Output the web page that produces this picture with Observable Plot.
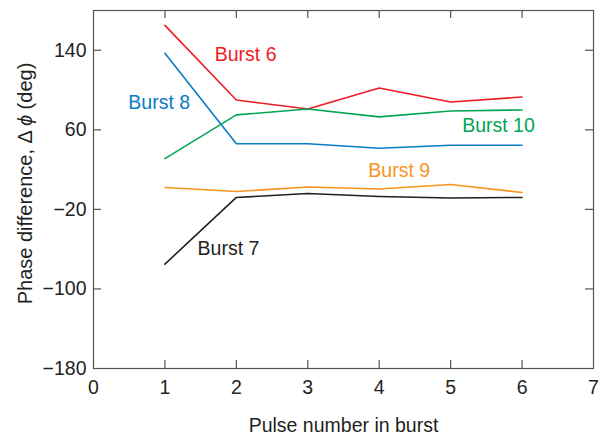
<!DOCTYPE html>
<html>
<head>
<meta charset="utf-8">
<script src="https://cdn.jsdelivr.net/npm/d3@7"></script>
<script src="https://cdn.jsdelivr.net/npm/@observablehq/plot@0.6"></script>
<style>
  body { margin: 0; background: #fff; }
  #chart svg { font-family: "Liberation Sans", Arial, Helvetica, sans-serif; }
</style>
</head>
<body>
<div id="chart"></div>
<script>
// Phase difference per pulse, for five bursts
const pulses  = [1, 2, 3, 4, 5, 6];
const burst6  = [165, 90, 81, 102, 88, 93];
const burst7  = [-75, -8, -4, -7, -8.5, -8];
const burst8  = [137, 46, 46, 41.5, 44.5, 44.5];
const burst9  = [2, -2, 2.5, 0.5, 5, -3];
const burst10 = [31, 75, 81, 73, 79, 80];

const burstNames  = ["Burst 6", "Burst 7", "Burst 8", "Burst 9", "Burst 10"];
const burstColors = ["#ed1c24", "#231f20", "#0a7cc4", "#f7941d", "#00a651"];

// Where each burst's name sits, in data units
const labelPulse = [2.13, 1.89, 0.92, 4.28, 5.67];
const labelPhase = [136, -60, 87, 18.5, 64.5];

const xTicks = [0, 1, 2, 3, 4, 5, 6, 7];
const yTicks = [-180, -100, -20, 60, 140];

const seriesValues = [burst6, burst7, burst8, burst9, burst10];
const rows = burstNames.flatMap((name, i) =>
  pulses.map((p, j) => ({burst: name, pulse: p, phase: seriesValues[i][j]}))
);
const labels = burstNames.map((name, i) => ({burst: name, pulse: labelPulse[i], phase: labelPhase[i]}));

const W = 601, H = 436;
const mL = 93, mR = 8, mT = 10, mB = 68;
const innerW = W - mL - mR, innerH = H - mT - mB;
const tickLen = 8;
const axisColor = "#555";
const fs = 19.5;
const yTitle = "Phase difference, \u0394\u2009\u03d5 (deg)";

const chart = Plot.plot({
  width: W,
  height: H,
  marginLeft: mL,
  marginRight: mR,
  marginTop: mT,
  marginBottom: mB,
  style: {fontSize: fs + "px", fontFamily: "Liberation Sans, Arial, sans-serif", color: "#231f20", background: "#fff"},
  x: {domain: [0, 7]},
  y: {domain: [-180, 180]},
  color: {domain: burstNames, range: burstColors},
  marks: [
    Plot.frame({stroke: axisColor, strokeWidth: 1.2}),
    // inward ticks on all four sides
    Plot.tickX(xTicks.slice(1, -1), {x: d => d, insetTop: innerH - tickLen, stroke: axisColor, strokeWidth: 1.2}),
    Plot.tickX(xTicks.slice(1, -1), {x: d => d, insetBottom: innerH - tickLen, stroke: axisColor, strokeWidth: 1.2}),
    Plot.tickY(yTicks.slice(1), {y: d => d, insetRight: innerW - tickLen, stroke: axisColor, strokeWidth: 1.2}),
    Plot.tickY(yTicks.slice(1), {y: d => d, insetLeft: innerW - tickLen, stroke: axisColor, strokeWidth: 1.2}),
    Plot.axisX({ticks: xTicks, tickSize: 0, tickPadding: 12, tickFormat: d => String(d), label: null, fontSize: fs}),
    Plot.axisY({ticks: yTicks, tickSize: 0, tickPadding: 7, tickFormat: d => d < 0 ? "\u2212" + Math.abs(d) : String(d), label: null, fontSize: fs}),
    Plot.line(rows, {x: "pulse", y: "phase", z: "burst", stroke: "burst", strokeWidth: 1.6}),
    Plot.text(labels, {x: "pulse", y: "phase", text: "burst", fill: "burst", fontSize: fs}),
    Plot.text(["Pulse number in burst"], {frameAnchor: "bottom", lineAnchor: "middle", textAnchor: "middle", dy: 57, fontSize: fs, fill: "#231f20"}),
    Plot.text([yTitle], {frameAnchor: "left", lineAnchor: "middle", textAnchor: "middle", dx: -68, dy: -6, rotate: -90, fontSize: 20, fill: "#231f20"})
  ]
});

// italicise the phi in the y-axis title
chart.querySelectorAll("text").forEach(t => {
  if (t.textContent === yTitle) {
    t.textContent = "";
    const parts = [["Phase difference, \u0394\u2009", null], ["\u03d5", "italic"], [" (deg)", null]];
    for (const [s, st] of parts) {
      const ts = document.createElementNS("http://www.w3.org/2000/svg", "tspan");
      ts.textContent = s;
      if (st) ts.setAttribute("font-style", st);
      t.appendChild(ts);
    }
  }
});

document.getElementById("chart").appendChild(chart);
</script>
</body>
</html>
